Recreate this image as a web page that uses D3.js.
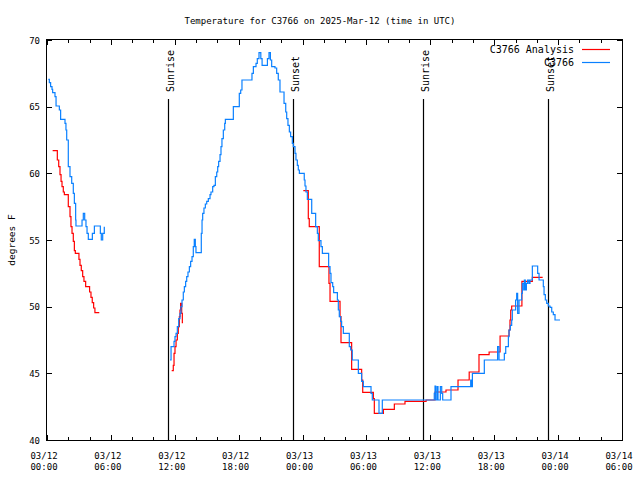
<!DOCTYPE html>
<html><head><meta charset="utf-8">
<script src="https://cdn.jsdelivr.net/npm/d3@7"></script>
<style>body{margin:0;background:#fff}svg{display:block;font-family:"DejaVu Sans Mono",monospace}</style>
</head><body>
<svg id="c" width="640" height="480"></svg>
<script>
// ---- data (hours since 03/12 00:00 UTC, degrees F) ----
const titleText = "Temperature for C3766 on 2025-Mar-12 (time in UTC)";
const yLabelText = "degrees F";
const seriesNames = ["C3766 Analysis", "C3766"];
const seriesColors = ["#ff0000", "#0a80ff"];

const xTickHours = [0, 6, 12, 18, 24, 30, 36, 42, 48, 54];
const xTickDates = ["03/12","03/12","03/12","03/12","03/13","03/13","03/13","03/13","03/14","03/14"];
const xTickTimes = ["00:00","06:00","12:00","18:00","00:00","06:00","12:00","18:00","00:00","06:00"];
const yTicks = [40, 45, 50, 55, 60, 65, 70];

const sunEventHours = [11.39, 23.13, 35.34, 47.08];
const sunEventLabels = ["Sunrise", "Sunset", "Sunrise", "Sunset"];

// analysis series (null = gap)
const analysis = [
 [0.53,61.7],[0.97,61.0],[1.1,60.5],[1.22,59.9],[1.32,59.4],[1.41,59.0],[1.53,58.6],[1.63,58.4],
 [2.0,57.5],[2.16,56.75],[2.25,56.0],[2.35,55.5],[2.47,54.9],[2.57,54.2],[2.66,54.0],[3.0,53.55],
 [3.1,53.1],[3.22,52.7],[3.35,52.25],[3.47,51.9],[3.63,51.5],[4.0,51.1],[4.13,50.7],[4.25,50.3],
 [4.38,49.9],[4.5,49.55],[4.91,49.55],
 null,
 [11.71,45.2],[11.86,45.6],[11.93,46.5],[12.02,47.0],[12.12,47.5],[12.24,48.0],[12.33,48.5],
 [12.43,49.25],[12.49,49.75],[12.55,50.25],[12.65,49.5],[12.71,48.8],[12.77,48.8],
 null,
 [24.07,58.7],[24.54,56.6],[24.63,56.0],[25.57,53.0],[26.48,51.75],[26.58,50.4],[27.52,49.25],
 [27.61,47.3],[28.61,45.3],[29.55,44.5],[29.65,43.57],[30.65,43.1],[30.74,42.0],[31.59,42.3],
 [32.62,42.7],[33.62,42.9],[35.6,43.0],[36.44,43.6],[37.47,43.75],[38.6,44.5],[39.65,45.1],
 [40.57,46.4],[41.52,46.6],[42.55,47.8],[43.39,48.25],[43.48,49.0],[43.55,49.75],[43.64,50.05],
 [44.6,51.9],[45.58,52.2],[46.55,52.2]
];

// observed series (null = gap)
const observed = [
 [0.125,67.05],[0.22,66.8],[0.34,66.5],[0.47,66.3],[0.53,66.05],[0.75,65.75],[0.85,65.05],
 [1.16,64.75],[1.28,64.05],[1.69,63.75],[1.78,63.25],[1.85,62.5],[2.0,60.5],[2.16,59.75],
 [2.32,59.25],[2.47,58.5],[2.57,57.75],[2.69,56.5],[2.72,56.05],[3.29,56.5],[3.41,57.0],
 [3.54,56.5],[3.66,56.0],[3.76,55.5],[3.88,55.05],[4.26,55.5],[4.45,56.05],[5.01,55.5],
 [5.1,55.0],[5.23,55.5],[5.38,56.0],
 null,
 [11.55,46.0],[11.65,47.0],[11.93,47.4],[12.02,47.75],[12.12,48.0],[12.24,48.5],[12.37,49.1],
 [12.49,49.5],[12.58,50.0],[12.68,50.5],[12.8,51.1],[12.9,51.5],[13.02,51.9],[13.12,52.25],
 [13.24,52.6],[13.37,53.0],[13.49,53.4],[13.62,53.75],[13.74,54.5],[13.83,55.05],[13.93,54.5],
 [13.99,54.05],[14.49,55.5],[14.56,56.5],[14.62,57.0],[14.74,57.4],[14.87,57.7],[15.0,57.9],
 [15.15,58.1],[15.31,58.4],[15.4,58.6],[15.56,59.0],[15.68,59.1],[15.81,59.75],[15.94,60.1],
 [16.03,60.5],[16.12,60.9],[16.25,61.4],[16.34,62.0],[16.43,62.6],[16.56,63.25],[16.69,63.75],
 [16.75,64.05],[17.5,65.0],[18.06,66.0],[18.19,66.25],[18.31,67.0],[19.25,67.5],[19.38,68.0],
 [19.63,68.25],[19.75,68.6],[19.91,69.05],[20.08,68.6],[20.2,68.1],[20.7,68.6],[20.85,69.05],
 [20.98,68.5],[21.1,68.0],[21.41,67.9],[21.57,67.5],[21.72,67.0],[21.88,66.1],[22.26,65.25],
 [22.42,64.6],[22.51,64.1],[22.63,63.6],[22.76,63.1],[22.88,62.75],[23.04,62.25],[23.13,62.0],
 [23.29,61.5],[23.38,61.0],[23.51,60.6],[23.6,60.25],[23.7,60.0],[24.16,59.5],[24.23,59.05],
 [24.32,58.6],[24.45,58.05],[24.86,57.0],[25.23,56.0],[25.39,55.5],[25.48,54.95],[25.73,54.5],
 [25.86,54.0],[26.45,53.0],[26.58,52.5],[26.67,51.8],[26.83,51.5],[26.92,51.05],[27.27,50.5],
 [27.36,49.75],[27.45,49.25],[27.58,48.9],[27.67,48.5],[27.83,48.0],[28.39,47.0],[28.52,46.75],
 [28.67,46.0],[29.24,45.0],[29.55,44.4],[29.71,44.0],[30.43,43.5],[30.55,43.0],[31.18,42.0],
 [31.49,43.0],[36.37,43.5],[36.44,44.05],[36.5,43.0],[36.63,44.0],[36.72,43.0],[36.94,44.0],
 [37.07,43.5],[37.16,43.0],[37.94,44.0],[39.79,44.5],[39.88,44.0],[39.95,45.0],[41.07,46.0],
 [42.32,47.0],[42.45,46.0],[42.95,46.5],[43.08,47.0],[43.33,47.75],[43.39,48.25],[43.51,48.6],
 [43.64,49.0],[43.7,49.75],[44.01,50.5],[44.11,51.0],[44.2,49.5],[44.33,50.5],[44.58,51.0],
 [44.64,51.75],[44.77,51.25],[44.83,52.0],[44.92,51.25],[45.02,51.75],[45.14,52.0],[45.27,51.75],
 [45.36,52.0],[45.58,53.05],[46.08,52.5],[46.21,52.0],[46.61,51.5],[46.68,50.9],[46.8,50.5],
 [46.93,50.25],[47.08,50.05],[47.24,49.95],[47.4,49.6],[47.55,49.4],[47.71,49.0],[48.18,49.0]
];

// ---- drawing ----
const L = 47, R = 622, T = 40, B = 440;
const svg = d3.select("#c");
const x = d3.scaleLinear().domain([0, 54]).range([L, R]);
const y = d3.scaleLinear().domain([40, 70]).range([B, T]);

svg.append("rect").attr("width", 640).attr("height", 480).attr("fill", "#fff");

// title
svg.append("text").attr("x", 320).attr("y", 24).attr("text-anchor", "middle")
  .attr("font-size", 9).attr("fill", "#000").text(titleText);

// y label
svg.append("text").attr("transform", "translate(15,240) rotate(-90)")
  .attr("text-anchor", "middle").attr("font-size", 9.5).text(yLabelText);

// sunrise / sunset markers
const sun = svg.append("g");
sun.selectAll("line").data(sunEventHours).join("line")
  .attr("x1", d => Math.round(x(d)) + 0.5).attr("x2", d => Math.round(x(d)) + 0.5)
  .attr("y1", 99).attr("y2", B).attr("stroke", "#000").attr("stroke-width", 1.2);
sun.selectAll("text").data(sunEventHours).join("text")
  .attr("transform", d => `translate(${x(d) + 5.5},92) rotate(-90)`)
  .attr("font-size", 10).attr("text-anchor", "start")
  .text((d, i) => sunEventLabels[i]);

// series lines
const line = d3.line().defined(d => d !== null)
  .x(d => x(d[0])).y(d => y(d[1])).curve(d3.curveStepAfter);
svg.append("path").datum(analysis).attr("d", line).attr("fill", "none")
  .attr("stroke", seriesColors[0]).attr("stroke-width", 1.2);
svg.append("path").datum(observed).attr("d", line).attr("fill", "none")
  .attr("stroke", seriesColors[1]).attr("stroke-width", 1.2);

// axes (ticks inward, mirrored)
const minorHours = d3.range(0, 55, 2).filter(h => h % 6 !== 0);
function noDomain(g) { g.select(".domain").remove(); g.selectAll("text").remove(); }
svg.append("g").attr("transform", `translate(0,${B})`)
  .call(d3.axisBottom(x).tickValues(xTickHours).tickSize(-5)).call(noDomain);
svg.append("g").attr("transform", `translate(0,${B})`)
  .call(d3.axisBottom(x).tickValues(minorHours).tickSize(-3)).call(noDomain);
svg.append("g").attr("transform", `translate(0,${T})`)
  .call(d3.axisTop(x).tickValues(xTickHours).tickSize(-5)).call(noDomain);
svg.append("g").attr("transform", `translate(0,${T})`)
  .call(d3.axisTop(x).tickValues(minorHours).tickSize(-3)).call(noDomain);
svg.append("g").attr("transform", `translate(${L},0)`)
  .call(d3.axisLeft(y).tickValues(yTicks).tickSize(-5)).call(noDomain);
svg.append("g").attr("transform", `translate(${R},0)`)
  .call(d3.axisRight(y).tickValues(yTicks).tickSize(-5)).call(noDomain);
svg.selectAll(".tick line").attr("stroke", "#000").attr("shape-rendering", "crispEdges");

// frame
svg.append("rect").attr("x", L - 0.5).attr("y", T - 0.5).attr("width", R - L + 1).attr("height", B - T + 1)
  .attr("fill", "none").attr("stroke", "#000").attr("stroke-width", 1).attr("shape-rendering", "crispEdges");

// y tick labels
svg.append("g").selectAll("text").data(yTicks).join("text")
  .attr("x", 40).attr("y", d => y(d) + 3.5).attr("text-anchor", "end")
  .attr("font-size", 9).text(d => d);

// x tick labels
const xl = svg.append("g").selectAll("text").data(xTickHours).join("text")
  .attr("text-anchor", "middle").attr("font-size", 9);
xl.append("tspan").attr("x", d => x(d) - 3).attr("y", 458.5).text((d, i) => xTickDates[i]);
xl.append("tspan").attr("x", d => x(d) - 3).attr("y", 469.5).text((d, i) => xTickTimes[i]);

// legend
const lg = svg.append("g");
seriesNames.forEach((name, i) => {
  const ly = 49.5 + i * 13;
  lg.append("text").attr("x", 574).attr("y", ly + 3.5).attr("text-anchor", "end")
    .attr("font-size", 10).text(name);
  lg.append("line").attr("x1", 582).attr("x2", 610).attr("y1", ly).attr("y2", ly)
    .attr("stroke", seriesColors[i]).attr("stroke-width", 1.2);
});
</script>
</body></html>
